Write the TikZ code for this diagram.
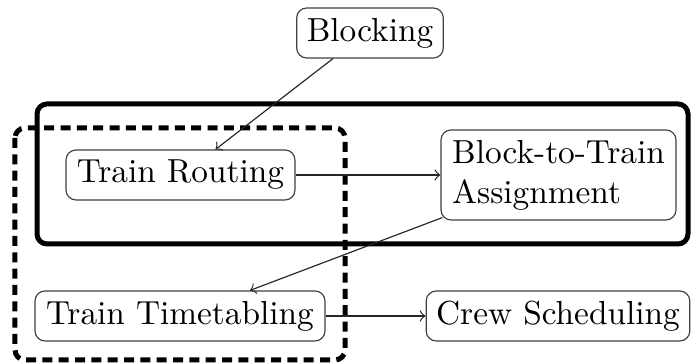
\documentclass[tikz,border=0pt]{standalone}
\usetikzlibrary{calc}
\begin{document}
\begin{tikzpicture}[x=0.3pt,y=-0.3pt,
  task/.style={draw=black!75,line width=0.35pt,rounded corners=3pt,fill=white,
    inner xsep=3pt,inner ysep=0pt,minimum height=15pt,font=\fontsize{10}{12}\selectfont},
  link/.style={->,line width=0.35pt,black!85},
  groupsolid/.style={line width=1.5pt,rounded corners=3pt},
  groupdash/.style={line width=1.5pt,rounded corners=3pt,dash pattern=on 3pt off 1.9pt}]
\useasboundingbox (0,0) rectangle (691,364);
% grouping frames
\draw[groupsolid] (37,104) rectangle (688,244);
\draw[groupdash] (15,128) rectangle (345,360);
% tasks
\node[task,minimum width=44pt] (blk) at (370,33) {Blocking};
\node[task,minimum width=68.7pt] (tr) at (180.5,175) {Train Routing};
\node[task,minimum width=70.5pt,minimum height=27pt,align=left] (bta) at (558.5,175)
  {Block-to-Train\\Assignment};
\node[task,minimum width=87pt] (tt) at (180,316) {Train Timetabling};
\node[task,minimum width=78.6pt] (cs) at (558,316) {Crew Scheduling};
% precedence links
\draw[link] ($(blk.south)+(-37,0)$) -- ($(tr.north)+(35,0)$);
\draw[link] (tr.east) -- (bta.west);
\draw[link] ($(bta.south west)+(2,-3)$) -- ($(tt.north)+(70,0)$);
\draw[link] (tt.east) -- (cs.west);
\end{tikzpicture}
\end{document}
